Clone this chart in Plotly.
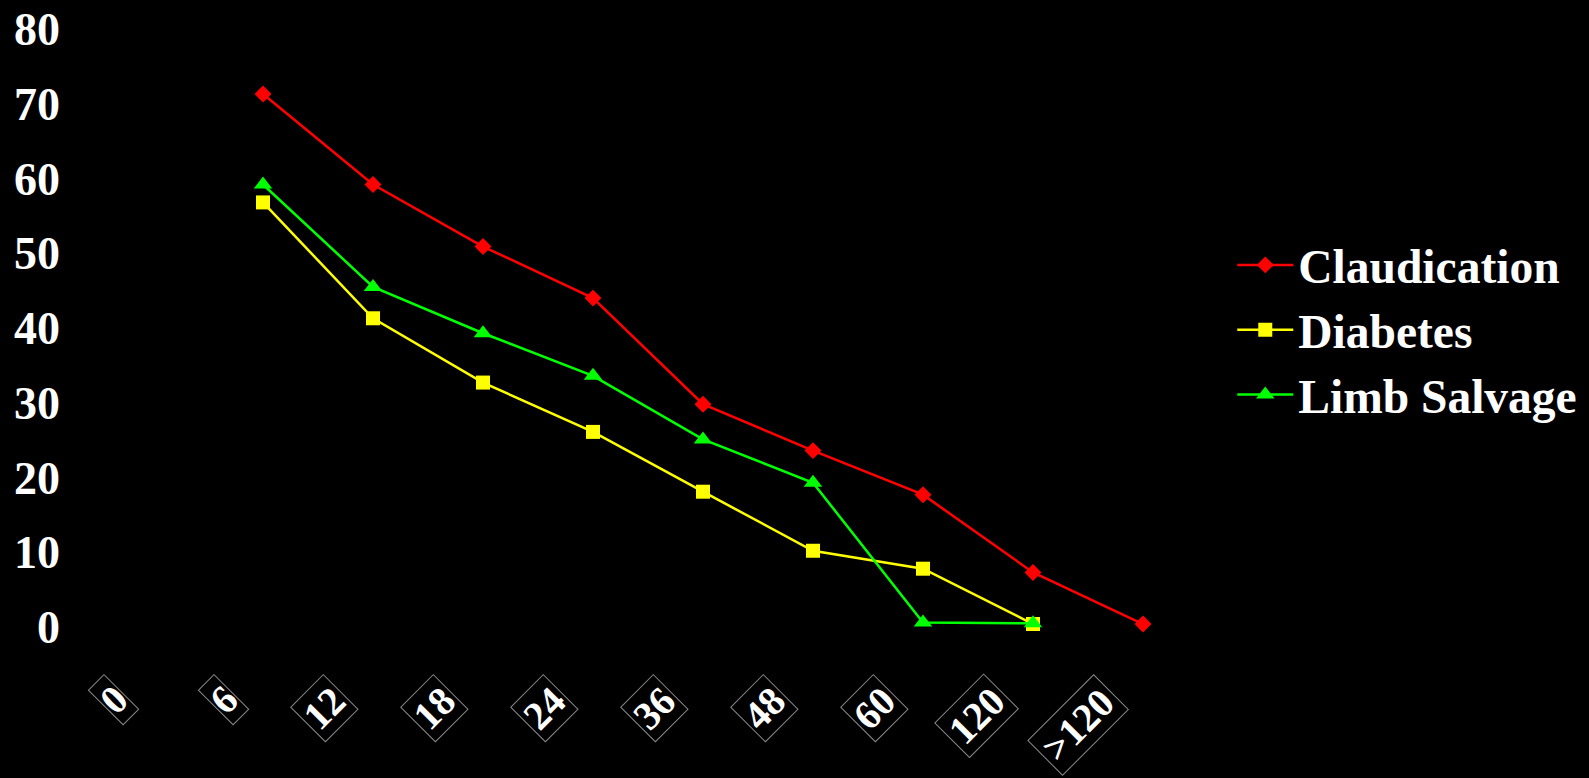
import plotly.graph_objects as go

# Follow-up interval categories (months)
categories = ["0", "6", "12", "18", "24", "36", "48", "60", "120", ">120"]

# Percentage values per group; no value recorded at month 0
claudication = [None, 71.3, 59.2, 50.9, 44.0, 29.8, 23.6, 17.7, 7.3, 0.4]
diabetes = [None, 56.8, 41.3, 32.7, 26.1, 18.1, 10.2, 7.8, 0.4, None]
limb_salvage = [None, 59.2, 45.5, 39.3, 33.6, 25.1, 19.3, 0.6, 0.5, None]

y_ticks = [0, 10, 20, 30, 40, 50, 60, 70, 80]

serif = "Liberation Serif, Times New Roman, serif"
x_pos = list(range(len(categories)))

fig = go.Figure()

series = [
    ("Claudication", claudication, "#FF0000", "diamond", 13),
    ("Diabetes", diabetes, "#FFFF00", "square", 14),
    ("Limb Salvage", limb_salvage, "#00FF00", "triangle-up", 16),
]
for name, values, color, symbol, size in series:
    fig.add_trace(go.Scatter(
        x=x_pos,
        y=values,
        name=name,
        mode="lines+markers",
        line=dict(color=color, width=2.5),
        marker=dict(color=color, symbol=symbol, size=size),
        cliponaxis=False,
        connectgaps=False,
    ))

# Rotated category labels, each in a thin frame sized to its text,
# anchored just left of the category position
for xp, label in zip(x_pos, categories):
    fig.add_annotation(
        x=xp,
        y=0,
        xref="x",
        yref="paper",
        xshift=-14,
        yshift=-47,
        xanchor="right",
        yanchor="top",
        text=label,
        textangle=-45,
        showarrow=False,
        width=23.4 * len(label) - 2,
        height=48,
        align="center",
        valign="middle",
        font=dict(family=serif, size=40, color="white", weight="bold"),
        bgcolor="black",
        bordercolor="#8a8a8a",
        borderwidth=1,
        borderpad=0,
    )

fig.update_xaxes(
    range=[-0.5, len(categories) - 0.5],
    showticklabels=False,
    showgrid=False,
    zeroline=False,
    showline=False,
    ticks="",
    automargin=False,
)
fig.update_yaxes(
    range=[0, 80],
    tickvals=y_ticks,
    ticktext=[str(v) for v in y_ticks],
    tickfont=dict(family=serif, size=46, color="white", weight="bold"),
    ticklabelstandoff=37,
    showgrid=False,
    zeroline=False,
    showline=False,
    ticks="",
    automargin=False,
)

fig.update_layout(
    width=1589,
    height=778,
    margin=dict(l=98, r=391, t=29, b=151),
    paper_bgcolor="black",
    plot_bgcolor="black",
    showlegend=True,
    legend=dict(
        xref="container",
        yref="container",
        x=0.7755,
        y=0.5758,
        xanchor="left",
        yanchor="middle",
        font=dict(family=serif, size=47.5, color="white", weight="bold"),
        bgcolor="rgba(0,0,0,0)",
        itemwidth=56,
        tracegroupgap=0,
    ),
)

fig.write_html("out.html")
